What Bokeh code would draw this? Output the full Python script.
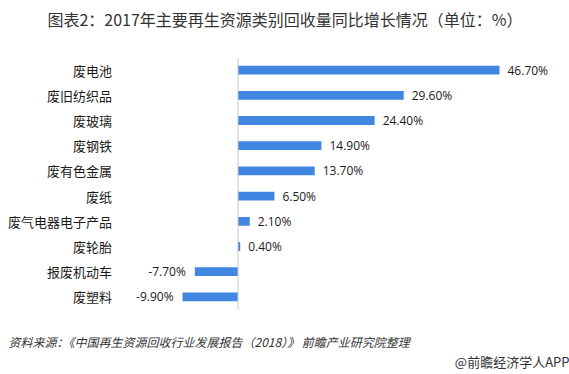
from bokeh.plotting import figure
from bokeh.models import Range1d, FactorRange, Span, Title, ColumnDataSource
from bokeh.core.properties import value
from bokeh.embed import file_html
from bokeh.resources import INLINE

categories = ["废电池", "废旧纺织品", "废玻璃", "废钢铁", "废有色金属", "废纸",
              "废气电器电子产品", "废轮胎", "报废机动车", "废塑料"]
growth = [46.7, 29.6, 24.4, 14.9, 13.7, 6.5, 2.1, 0.4, -7.7, -9.9]

title_text = "图表2：2017年主要再生资源类别回收量同比增长情况（单位：%）"
source_text = "资料来源：《中国再生资源回收行业发展报告（2018）》 前瞻产业研究院整理"
brand_text = "@前瞻经济学人APP"

CJK = "Noto Sans CJK SC"
BLUE = "#4186E0"

p = figure(width=569, height=374,
           x_range=Range1d(-42.41, 59.20),
           y_range=FactorRange(factors=list(reversed(categories))),
           x_axis_type=None, y_axis_type=None,
           output_backend="svg", toolbar_location=None,
           min_border_left=0, min_border_right=0,
           min_border_top=53, min_border_bottom=65)
p.y_range.range_padding = 0
p.outline_line_color = None
p.grid.visible = False
p.background_fill_color = "white"
p.border_fill_color = "white"

# spacer between frame and title, then the title itself
p.add_layout(Title(text=" ", text_font_size="1px", standoff=20), "above")
p.add_layout(Title(text=title_text, align="center", text_font=CJK,
                   text_font_size="16px", text_font_style="normal",
                   text_color="#333333", standoff=8), "above")

src = ColumnDataSource(dict(cat=categories, val=growth,
                            lx=[-22.5] * len(categories)))
p.hbar(y="cat", right="val", left=0, height=0.35, source=src,
       fill_color=BLUE, line_color=None)

p.add_layout(Span(location=0, dimension="height", line_color="#C8C8C8", line_width=1))

p.text(x="lx", y="cat", text="cat", source=src, text_align="right",
       text_baseline="middle", text_font=value(CJK), text_font_size="13px",
       text_color="#1a1a1a")

pos = ColumnDataSource(dict(cat=[c for c, v in zip(categories, growth) if v >= 0],
                            val=[v for v in growth if v >= 0],
                            lab=[f"{v:.2f}%" for v in growth if v >= 0]))
neg = ColumnDataSource(dict(cat=[c for c, v in zip(categories, growth) if v < 0],
                            val=[v for v in growth if v < 0],
                            lab=[f"{v:.2f}%" for v in growth if v < 0]))
p.text(x="val", y="cat", text="lab", source=pos, x_offset=8, text_align="left",
       text_baseline="middle", text_font=value("Open Sans"), text_font_size="12px",
       text_color="#1a1a1a")
p.text(x="val", y="cat", text="lab", source=neg, x_offset=-9, text_align="right",
       text_baseline="middle", text_font=value("Open Sans"), text_font_size="12px",
       text_color="#1a1a1a")

# spacer below frame, then source line, then brand line
p.add_layout(Title(text=" ", text_font_size="1px", standoff=18), "below")
p.add_layout(Title(text=source_text, align="left", text_font=CJK, text_font_size="12px",
                   text_font_style="italic", text_color="#333333", standoff=0,
                   offset=8), "below")
p.add_layout(Title(text=brand_text, align="right", text_font=CJK, text_font_size="13px",
                   text_font_style="normal", text_color="#333333", standoff=0), "below")

open("out.html", "w").write(file_html(p, INLINE))
